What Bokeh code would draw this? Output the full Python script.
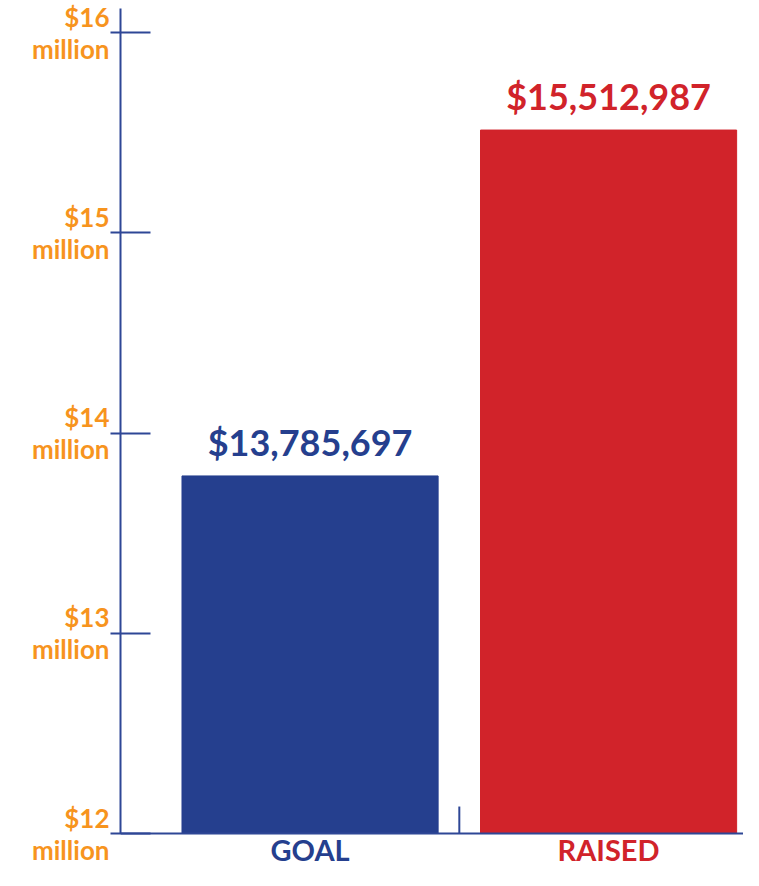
from bokeh.plotting import figure
from bokeh.models import Range1d, FixedTicker, LinearAxis, Label, Span
from bokeh.embed import file_html
from bokeh.resources import INLINE

categories = ["GOAL", "RAISED"]
values = [13785697, 15512987]
bar_colors = ["#253F8E", "#D1232A"]
tick_values = [12000000, 13000000, 14000000, 15000000, 16000000]
tick_labels = ["$12\nmillion", "$13\nmillion", "$14\nmillion", "$15\nmillion", "$16\nmillion"]

AXIS = "#2E4796"
ORANGE = "#F7941E"
FONT = "Lato"

base = tick_values[0]
ymax = 16120000
px_per_unit = 200.25 / 1e6
W, H = 743, 870
top_border, left_border = 8, 120
frame_h = H - top_border
ymin = ymax - frame_h / px_per_unit

xs = [i + 0.5 for i in range(len(categories))]
separators = [i + 1.0 for i in range(len(categories) - 1)]

p = figure(width=W, height=H, output_backend="svg", toolbar_location=None,
           x_range=Range1d(-0.135, 1.952), y_range=Range1d(ymin, ymax),
           min_border_left=left_border, min_border_right=0, min_border_top=top_border,
           min_border_bottom=0, x_axis_location=None, y_axis_location=None)
p.outline_line_color = None
p.xgrid.visible = False
p.ygrid.visible = False

p.vbar(x=xs, top=values, bottom=base, width=0.858, color=bar_colors)

# baseline (bottom axis line) and category separator ticks
p.add_layout(Span(location=base, dimension="width", line_color=AXIS, line_width=2))
p.segment(x0=separators, y0=base, x1=separators, y1=base + 27 / px_per_unit,
          line_color=AXIS, line_width=2)

yaxis = LinearAxis(ticker=FixedTicker(ticks=tick_values), bounds=(base, ymax))
yaxis.major_label_overrides = {v: t for v, t in zip(tick_values, tick_labels)}
yaxis.axis_line_color = AXIS
yaxis.axis_line_width = 2
yaxis.major_tick_line_color = AXIS
yaxis.major_tick_line_width = 2
yaxis.major_tick_in = 30
yaxis.major_tick_out = 10
yaxis.minor_tick_line_color = None
yaxis.major_label_standoff = 1
yaxis.major_label_text_color = ORANGE
yaxis.major_label_text_font = FONT
yaxis.major_label_text_font_style = "bold"
yaxis.major_label_text_font_size = "26px"
yaxis.major_label_text_line_height = 1.0
yaxis.major_label_text_align = "center"
p.add_layout(yaxis, "left")

for x, v, c, cat in zip(xs, values, bar_colors, categories):
    p.add_layout(Label(x=x, y=v, text=f"${v:,}", text_color=c, text_font=FONT,
                       text_font_style="bold", text_font_size="36px",
                       text_align="center", text_baseline="bottom", y_offset=12))
    p.add_layout(Label(x=x, y=base, text=cat, text_color=c, text_font=FONT,
                       text_font_style="bold", text_font_size="29px",
                       text_align="center", text_baseline="middle", y_offset=-16))

open("out.html", "w").write(file_html(p, INLINE))
